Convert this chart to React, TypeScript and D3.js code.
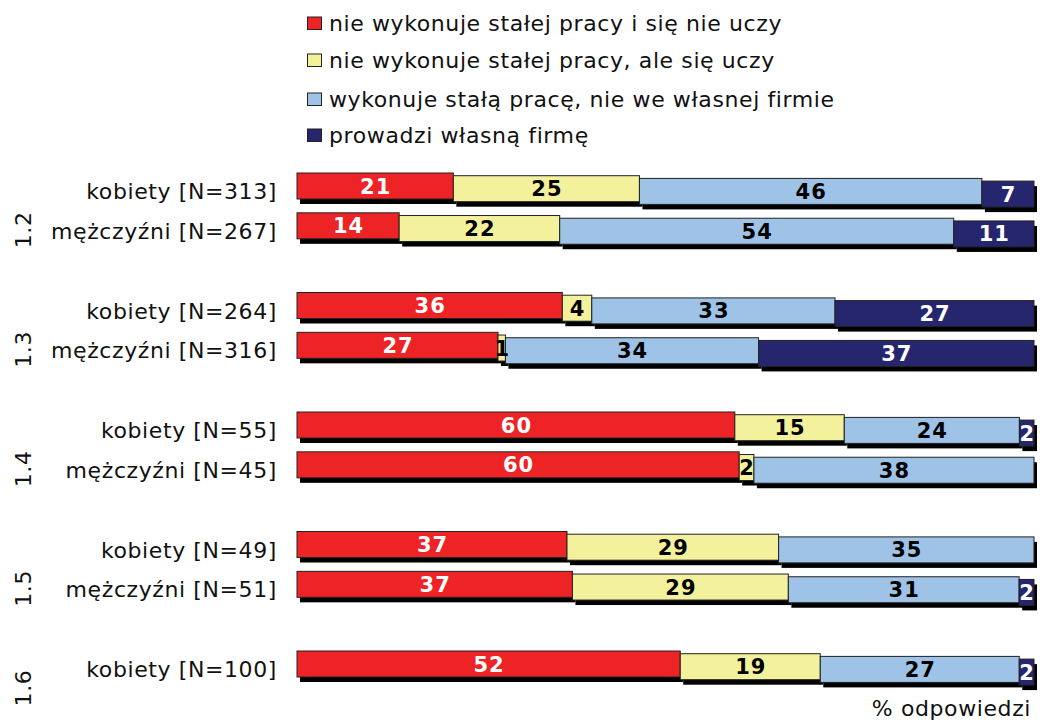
import React from "react";
import * as d3 from "d3";

const groups = ["1.2", "1.3", "1.4", "1.5", "1.6"];
const rowGroup = ["1.2", "1.2", "1.3", "1.3", "1.4", "1.4", "1.5", "1.5", "1.6"];
const rowLabels = [
  "kobiety [N=313]",
  "mężczyźni [N=267]",
  "kobiety [N=264]",
  "mężczyźni [N=316]",
  "kobiety [N=55]",
  "mężczyźni [N=45]",
  "kobiety [N=49]",
  "mężczyźni [N=51]",
  "kobiety [N=100]",
];
const seriesNames = [
  "nie wykonuje stałej pracy i się nie uczy",
  "nie wykonuje stałej pracy, ale się uczy",
  "wykonuje stałą pracę, nie we własnej firmie",
  "prowadzi własną firmę",
];
const s1 = [21, 14, 36, 27, 60, 60, 37, 37, 52];
const s2 = [25, 22, 4, 1, 15, 2, 29, 29, 19];
const s3 = [46, 54, 33, 34, 24, 38, 35, 31, 27];
const s4 = [7, 11, 27, 37, 2, 0, 0, 2, 2];
const seriesValues = [s1, s2, s3, s4];
const colors = ["#ee2326", "#f4f19d", "#9ec3e6", "#26266e"];
const labelColors = ["#ffffff", "#000000", "#000000", "#ffffff"];
const axisTitle = "% odpowiedzi";

const FONT = "'DejaVu Sans', Verdana, sans-serif";

export default function App() {
  const W = 1040;
  const H = 724;
  const x = d3.scaleLinear().domain([0, 100]).range([297, 1034]);
  const slotOf = rowGroup.map((g, i) => {
    const gi = groups.indexOf(g);
    const within = rowGroup.slice(0, i).filter((v) => v === g).length;
    return gi * 3 + within;
  });
  const y = d3.scaleLinear().domain([0, 12]).range([173, 651]);
  const barH = 26;
  const step = 2.7;
  const shX = 3;
  const shY = 5;

  const rows = rowLabels.map((label, i) => {
    const vals = seriesValues.map((s) => s[i]);
    const total = d3.sum(vals);
    let cum = 0;
    const segs = vals.map((v, k) => {
      const x0 = x((cum / total) * 100);
      cum += v;
      const x1 = x((cum / total) * 100);
      return { k, v, x0, x1 };
    }).filter((s) => s.v > 0);
    return { label, top: y(slotOf[i]), segs };
  });

  const legendBase = [30.5, 67.5, 106.5, 142.5];

  return (
    <div style={{ position: "absolute", left: 0, top: 0 }}>
      <svg width={W} height={H} style={{ display: "block", background: "#fff" }}>
        {/* legend */}
        {seriesNames.map((n, k) => (
          <g key={n}>
            <rect x={307.5} y={legendBase[k] - 13.5} width={14} height={12.5} fill={colors[k]} stroke="#222" strokeWidth={1} />
            <text x={329} y={legendBase[k]} fontFamily={FONT} fontSize={22} letterSpacing={0.6} fill="#111">{n}</text>
          </g>
        ))}
        {/* bars */}
        {rows.map((r, i) => (
          <g key={i}>
            {r.segs.map((s) => (
              <rect key={"sh" + s.k} x={s.x0 + shX} y={r.top + s.k * step + shY} width={s.x1 - s.x0} height={barH} fill="#000" />
            ))}
            {r.segs.map((s) => (
              <rect key={"f" + s.k} x={s.x0} y={r.top + s.k * step} width={s.x1 - s.x0} height={barH} fill={colors[s.k]} stroke="#222" strokeWidth={1} />
            ))}
            {r.segs.map((s) => (
              <text key={"t" + s.k} x={(s.x0 + s.x1) / 2 + 0.5} y={r.top + s.k * step + barH / 2 + 7.5} textAnchor="middle" fontFamily={FONT} fontWeight="bold" fontSize={21} letterSpacing={1} fill={labelColors[s.k]}>{s.v}</text>
            ))}
            <text x={277} y={r.top + 26} textAnchor="end" fontFamily={FONT} fontSize={22} letterSpacing={0.6} fill="#111">{r.label}</text>
          </g>
        ))}
        {/* group labels */}
        {groups.map((g) => {
          const idx = rowGroup.map((v, i) => (v === g ? i : -1)).filter((i) => i >= 0);
          const centers = idx.map((i) => rows[i].top + barH / 2);
          const cy = d3.mean(centers)! + 24;
          return (
            <text key={g} transform={`translate(31,${cy}) rotate(-90)`} textAnchor="middle" fontFamily={FONT} fontSize={22} letterSpacing={0.6} fill="#111">{g}</text>
          );
        })}
        <text x={1031} y={716} textAnchor="end" fontFamily={FONT} fontSize={22} letterSpacing={0.6} fill="#111">{axisTitle}</text>
      </svg>
    </div>
  );
}
